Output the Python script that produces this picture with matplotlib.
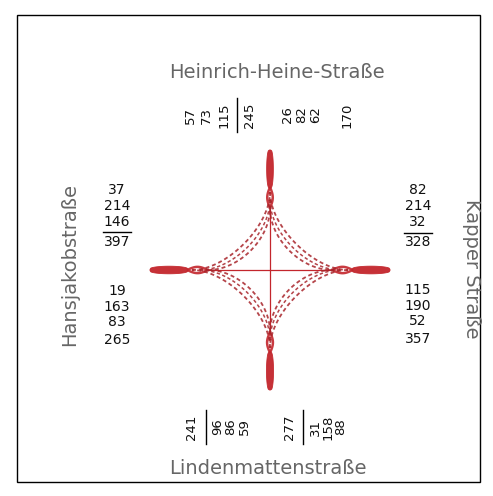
import numpy as np
import matplotlib
matplotlib.use('Agg')
import matplotlib.pyplot as plt
from matplotlib.patches import Rectangle, Polygon

# ---------------- data ----------------
street_north = "Heinrich-Heine-Straße"
street_east = "Kapper Straße"
street_south = "Lindenmattenstraße"
street_west = "Hansjakobstraße"

north_left = [57, 73, 115]
north_left_sum = 245
north_right = [26, 82, 62]
north_right_sum = 170

east_upper = [82, 214, 32]
east_upper_sum = 328
east_lower = [115, 190, 52]
east_lower_sum = 357

south_left = [96, 86, 59]
south_left_sum = 241
south_right = [31, 158, 88]
south_right_sum = 277

west_upper = [37, 214, 146]
west_upper_sum = 397
west_lower = [19, 163, 83]
west_lower_sum = 265

# ---------------- figure ----------------
fig = plt.figure(figsize=(4.93, 4.96), dpi=100)
ax = fig.add_axes([0, 0, 1, 1])
ax.set_xlim(0, 493)
ax.set_ylim(496, 0)
ax.axis('off')

ax.add_patch(Rectangle((17, 15), 463, 467, fill=False, ec='black', lw=1.0))

cx, cy = 270, 270
R, r1, r2 = 120, 82, 63
red = '#c3262c'
dark = '#a8242a'
C = np.array([cx, cy], float)

arms = {
    'N': ((0, -1), north_left_sum + north_right_sum),
    'S': ((0, 1), south_left_sum + south_right_sum),
    'W': ((-1, 0), west_upper_sum + west_lower_sum),
    'E': ((1, 0), east_upper_sum + east_lower_sum),
}

for key, (u, total) in arms.items():
    u = np.array(u, float)
    p = np.array([-u[1], u[0]])
    w = 2.0 + total / 550.0
    # spindle (outer bundle)
    d = np.linspace(R, r1, 50)
    t = (R - d) / (R - r1)
    h = 0.6 + w * np.sin(np.pi * t) ** 0.35
    h[0] = 0.6
    h[-1] = 0.6
    left = C + np.outer(d, u) + np.outer(h, p)
    right = C + np.outer(d, u) - np.outer(h, p)
    poly = np.vstack([left, right[::-1]])
    ax.add_patch(Polygon(poly, closed=True, fc=red, ec=red, lw=0.6, alpha=0.95))
    # lens (splitting)
    d2 = np.linspace(r1, r2, 30)
    t2 = (r1 - d2) / (r1 - r2)
    h2 = 0.4 + (w * 0.85) * np.sin(np.pi * t2)
    for s in (1, -1):
        pts = C + np.outer(d2, u) + s * np.outer(h2, p)
        ax.plot(pts[:, 0], pts[:, 1], color=red, lw=1.8, alpha=0.9, solid_capstyle='round')

# through lines
ax.plot([cx - r2, cx + r2], [cy, cy], color=red, lw=0.9)
ax.plot([cx, cx], [cy - r2, cy + r2], color=red, lw=0.9)

# turning curves (cubic Bezier between adjacent arms, astroid-like)
dirs = [np.array(v, float) for v in [(0, -1), (1, 0), (0, 1), (-1, 0)]]
tt = np.linspace(0, 1, 100)[:, None]
for i in range(4):
    a, b = dirs[i], dirs[(i + 1) % 4]
    for rc, s, lw in [(62, 0.50, 1.3), (70, 0.53, 1.1), (78, 0.56, 1.3)]:
        P0 = C + a * rc
        P1 = C + a * rc * s
        P2 = C + b * rc * s
        P3 = C + b * rc
        B = ((1 - tt) ** 3 * P0 + 3 * (1 - tt) ** 2 * tt * P1
             + 3 * (1 - tt) * tt ** 2 * P2 + tt ** 3 * P3)
        ax.plot(B[:, 0], B[:, 1], color=dark, lw=lw, ls=(0, (2.2, 1.6)), alpha=0.85)

# ---------------- street names ----------------
name_kw = dict(fontsize=14, color='#666666', ha='center', va='center')
ax.text(277, 72, street_north, **name_kw)
ax.text(268, 468, street_south, **name_kw)
ax.text(70, 265, street_west, rotation=90, **name_kw)
ax.text(471, 269, street_east, rotation=270, **name_kw)

# ---------------- numbers ----------------
num_kw = dict(fontsize=10, color='#111111', ha='center', va='center')
rot_kw = dict(fontsize=9.5, color='#111111', ha='center', va='center', rotation=90)

# west
for y, v in zip([190, 206, 222], west_upper):
    ax.text(117, y, str(v), **num_kw)
ax.plot([103, 131], [232, 232], color='black', lw=1.0)
ax.text(117, 242, str(west_upper_sum), **num_kw)
for y, v in zip([291, 307, 322], west_lower):
    ax.text(117, y, str(v), **num_kw)
ax.text(117, 340, str(west_lower_sum), **num_kw)

# east
for y, v in zip([190, 206, 222], east_upper):
    ax.text(418, y, str(v), **num_kw)
ax.plot([404, 432], [233, 233], color='black', lw=1.0)
ax.text(418, 242, str(east_upper_sum), **num_kw)
for y, v in zip([290, 306, 321], east_lower):
    ax.text(418, y, str(v), **num_kw)
ax.text(418, 339, str(east_lower_sum), **num_kw)

# north (rotated)
for x, v in zip([190, 206, 224], north_left):
    ax.text(x, 115, str(v), **rot_kw)
ax.plot([237, 237], [98, 132], color='black', lw=1.0)
ax.text(250, 115, str(north_left_sum), **rot_kw)
for x, v in zip([288, 302, 316], north_right):
    ax.text(x, 115, str(v), **rot_kw)
ax.text(347, 115, str(north_right_sum), **rot_kw)

# south (rotated)
ax.text(192, 427, str(south_left_sum), **rot_kw)
ax.plot([206, 206], [410, 444], color='black', lw=1.0)
for x, v in zip([218, 231, 244], south_left):
    ax.text(x, 427, str(v), **rot_kw)
ax.text(290, 427, str(south_right_sum), **rot_kw)
ax.plot([303, 303], [410, 444], color='black', lw=1.0)
for x, v in zip([315, 328, 341], south_right):
    ax.text(x, 427, str(v), **rot_kw)

fig.savefig('out.png', dpi=100)
